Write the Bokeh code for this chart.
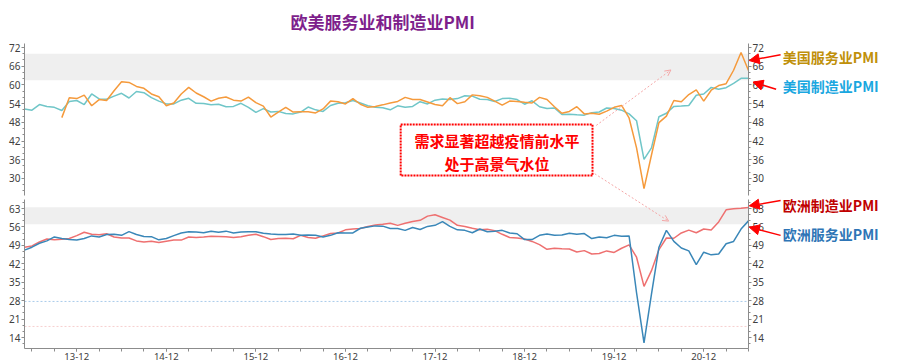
from bokeh.plotting import figure
from bokeh.models import (BoxAnnotation, Label, Arrow, NormalHead, OpenHead,
                          LinearAxis, Range1d, SingleIntervalTicker, FixedTicker)
from bokeh.embed import file_html
from bokeh.resources import INLINE

NaN = float("nan")

# ---- data: monthly, 2013-05 .. 2021-06 ----
start_year, start_month = 2013, 5
us_services = [NaN, NaN, NaN, NaN, NaN, 49.5, 55.9, 55.6,
               56.7, 53.3, 55.3, 55.0, 58.1, 61.0, 60.8, 59.5, 58.9, 57.1, 56.2, 53.3,
               54.2, 57.1, 59.2, 57.4, 56.2, 54.8, 55.7, 56.1, 55.1, 54.8, 56.1, 54.3,
               53.2, 49.7, 51.3, 52.8, 51.3, 51.4, 51.4, 51.0, 52.3, 54.8, 54.6, 53.9,
               55.6, 53.8, 52.8, 53.1, 53.6, 54.2, 54.7, 56.0, 55.3, 55.3, 54.5, 53.7,
               53.3, 55.9, 54.0, 54.6, 56.8, 56.5, 56.0, 54.8, 53.5, 54.8, 54.7, 54.4,
               54.2, 56.0, 55.3, 53.0, 50.9, 51.5, 53.0, 50.7, 50.9, 50.6, 51.6, 52.8,
               53.4, 49.4, 39.8, 26.7, 37.5, 47.9, 50.0, 55.0, 54.6, 56.9, 58.4, 54.8,
               58.3, 59.8, 60.4, 64.7, 70.4, 64.6]
us_manufacturing = [52.3, 51.9, 53.7, 53.1, 52.8, 51.8, 54.7, 55.0,
                    53.7, 57.1, 55.5, 55.4, 56.4, 57.3, 55.8, 57.9, 57.5, 55.9, 54.8, 53.9,
                    53.9, 55.1, 55.7, 54.1, 54.0, 53.6, 53.8, 53.0, 53.1, 54.1, 52.8, 51.2,
                    52.4, 51.3, 51.5, 50.8, 50.7, 51.3, 52.9, 52.0, 51.5, 53.4, 54.1, 54.3,
                    55.0, 54.2, 53.3, 52.8, 52.7, 52.0, 53.3, 52.8, 53.1, 54.6, 53.9, 55.1,
                    55.5, 55.3, 55.6, 56.5, 56.4, 55.4, 55.3, 54.7, 55.6, 55.7, 55.3, 53.8,
                    54.9, 53.0, 52.4, 52.6, 50.5, 50.6, 50.4, 50.3, 51.1, 51.3, 52.6, 52.4,
                    51.9, 50.7, 48.5, 36.1, 39.8, 49.8, 50.9, 53.1, 53.2, 53.4, 56.7, 57.1,
                    59.2, 58.6, 59.1, 60.5, 62.1, 62.1]
eu_manufacturing = [48.3, 48.8, 50.3, 51.4, 51.1, 51.3, 51.6, 52.7,
                    54.0, 53.2, 53.0, 53.4, 52.2, 51.8, 51.8, 50.7, 50.3, 50.6, 50.1, 50.6,
                    51.0, 51.0, 52.2, 52.0, 52.2, 52.5, 52.4, 52.3, 52.0, 52.3, 52.8, 53.2,
                    52.3, 51.2, 51.6, 51.7, 51.5, 52.8, 52.0, 51.7, 52.6, 53.5, 53.7, 54.9,
                    55.2, 55.4, 56.2, 56.7, 57.0, 57.4, 56.6, 57.4, 58.1, 58.5, 60.1, 60.6,
                    59.6, 58.6, 56.6, 56.2, 55.5, 54.9, 55.1, 54.6, 53.2, 52.0, 51.8, 51.4,
                    50.5, 49.3, 47.5, 47.9, 47.7, 47.6, 46.5, 47.0, 45.7, 45.9, 46.9, 46.3,
                    47.9, 49.2, 44.5, 33.4, 39.4, 47.4, 51.8, 51.7, 53.7, 54.8, 53.8, 55.2,
                    54.8, 57.9, 62.5, 62.9, 63.1, 63.4]
eu_services = [47.2, 48.3, 49.8, 50.7, 52.2, 51.6, 51.2, 51.0,
               51.6, 52.6, 52.2, 53.1, 53.2, 52.8, 54.2, 53.1, 52.4, 52.3, 51.1, 51.6,
               52.7, 53.7, 54.2, 54.1, 53.8, 54.4, 54.0, 54.4, 53.7, 54.1, 54.2, 54.2,
               53.6, 53.3, 53.1, 53.1, 53.3, 52.8, 52.9, 52.8, 52.2, 52.8, 53.8, 53.7,
               53.7, 55.5, 56.0, 56.4, 56.3, 55.4, 55.4, 54.7, 55.8, 55.0, 56.2, 56.6,
               58.0, 56.2, 54.9, 54.7, 53.8, 55.2, 54.2, 54.4, 54.7, 53.7, 53.4, 51.2,
               51.2, 52.8, 53.3, 52.8, 52.9, 53.6, 53.2, 53.5, 51.6, 52.2, 51.9, 52.8,
               52.5, 52.6, 31.0, 12.0, 30.5, 48.3, 54.7, 50.5, 48.0, 46.9, 41.7, 46.4,
               45.4, 45.7, 49.6, 50.5, 55.2, 58.3]
x_tick_labels = ["13-12", "14-12", "15-12", "16-12", "17-12", "18-12", "19-12", "20-12"]
ref_blue_level = 27.7
ref_red_level = 18.2
top_band = (61.5, 70.0)
bottom_band = (57.0, 63.5)
top_panel_span = (24.5, 73.3)
bottom_panel_span = (9.8, 66.4)

n = len(us_manufacturing)
xs = list(range(n))
x_last = xs[-1]
month_of = [(start_month - 1 + i) % 12 for i in xs]
dec_ticks = [i for i in xs if month_of[i] == 11]
quarter_ticks = [i for i in xs if month_of[i] in (2, 5, 8, 11)]

# ---- layout constants (pixels) ----
W, H = 900, 364
TOP_B = 34            # space for the title above the frame
X0_PX = 24            # pixel where month 0 sits
PX_PER_MONTH = 7.464
TOP_REF_Y, TOP_REF_V, TOP_PX = 47, 72, 3.117   # top panel: value 72 at y=47
BOT_REF_Y, BOT_REF_V, BOT_PX = 208, 63, 2.633  # bottom panel: value 63 at y=208

top_end = TOP_REF_V + (TOP_REF_Y - TOP_B) / TOP_PX
top_start = TOP_REF_V - (H - TOP_REF_Y) / TOP_PX
bot_end = BOT_REF_V + (BOT_REF_Y - TOP_B) / BOT_PX
bot_start = BOT_REF_V - (H - BOT_REF_Y) / BOT_PX


def bot_to_top(v):
    y = BOT_REF_Y + (BOT_REF_V - v) * BOT_PX
    return TOP_REF_V - (y - TOP_REF_Y) / TOP_PX


CJK = "Noto Sans CJK SC"
AX_COL = "#8C8C8C"
LBL_COL = "#404040"
RED = "#FF0000"
PINK = "#F4A7A7"

p = figure(width=W, height=H,
           x_range=Range1d(-X0_PX / PX_PER_MONTH, (W - X0_PX) / PX_PER_MONTH),
           y_range=Range1d(bot_start, bot_end), output_backend="svg",
           toolbar_location=None, x_axis_location=None, y_axis_location=None,
           min_border_left=0, min_border_right=0, min_border_top=TOP_B,
           min_border_bottom=0)
p.extra_y_ranges = {"top": Range1d(top_start, top_end)}
p.outline_line_color = None
p.grid.visible = False

p.title.text = "欧美服务业和制造业PMI"
p.title.align = "left"
p.title.offset = 290
p.title.standoff = 1
p.title.text_font = CJK
p.title.text_font_size = "17px"
p.title.text_font_style = "bold"
p.title.text_color = "#7E1F8C"


def yaxis(rng_name, span, interval, loc, side):
    kw = {} if rng_name is None else {"y_range_name": rng_name}
    ax = LinearAxis(fixed_location=loc, bounds=span,
                    ticker=SingleIntervalTicker(interval=interval, num_minor_ticks=3), **kw)
    ax.axis_line_color = AX_COL
    ax.major_tick_line_color = AX_COL
    ax.minor_tick_line_color = AX_COL
    ax.major_tick_in = 0
    ax.major_tick_out = 3
    ax.minor_tick_in = 0
    ax.minor_tick_out = 2
    ax.major_label_standoff = 1
    ax.major_label_text_font = "Noto Sans"
    ax.major_label_text_font_size = "10px"
    ax.major_label_text_color = LBL_COL
    p.add_layout(ax, side)


yaxis("top", top_panel_span, 6, 0, "left")
yaxis("top", top_panel_span, 6, x_last, "right")
yaxis(None, bottom_panel_span, 7, 0, "left")
yaxis(None, bottom_panel_span, 7, x_last, "right")

xa = LinearAxis(fixed_location=bottom_panel_span[0], bounds=(0, x_last),
                ticker=FixedTicker(ticks=dec_ticks, minor_ticks=quarter_ticks))
xa.major_label_overrides = {t: lab for t, lab in zip(dec_ticks, x_tick_labels)}
xa.axis_line_color = AX_COL
xa.major_tick_line_color = AX_COL
xa.minor_tick_line_color = AX_COL
xa.major_tick_in = 0
xa.major_tick_out = 3
xa.minor_tick_in = 0
xa.minor_tick_out = 3
xa.major_label_standoff = 1
xa.major_label_text_font = "Noto Sans"
xa.major_label_text_font_size = "9.5px"
xa.major_label_text_color = LBL_COL
p.add_layout(xa, "below")

# bands
p.add_layout(BoxAnnotation(left=0, right=x_last, bottom=top_band[0], top=top_band[1],
                           y_range_name="top", fill_color="#EFEFEF", fill_alpha=1,
                           line_color=None, level="underlay"))
p.add_layout(BoxAnnotation(left=0, right=x_last, bottom=bottom_band[0], top=bottom_band[1],
                           fill_color="#EFEFEF", fill_alpha=1, line_color=None,
                           level="underlay"))
# dotted reference levels (bottom panel)
p.segment(x0=[0], y0=[ref_blue_level], x1=[x_last], y1=[ref_blue_level],
          line_color="#A9CBEA", line_width=1, line_dash="2 2")
p.segment(x0=[0], y0=[ref_red_level], x1=[x_last], y1=[ref_red_level],
          line_color="#F7CFCF", line_width=1, line_dash="2 2")

# series
p.line(xs, us_manufacturing, y_range_name="top", line_color="#70C6C8", line_width=1.5)
p.line(xs, us_services, y_range_name="top", line_color="#F59A3C", line_width=1.5)
p.line(xs, eu_manufacturing, line_color="#EE7070", line_width=1.5)
p.line(xs, eu_services, line_color="#3A87B8", line_width=1.5)

# annotation box
p.add_layout(BoxAnnotation(left=50.4, right=76.1, bottom=30.9, top=47.3, y_range_name="top",
                           fill_alpha=0, line_color=RED, line_alpha=1, line_width=2,
                           line_dash="2 1"))
for yy, txt in [(42.2, "需求显著超越疫情前水平"), (34.8, "处于高景气水位")]:
    p.add_layout(Label(x=63.3, y=yy, y_range_name="top", text=txt, text_align="center",
                       text_baseline="middle", text_font=CJK, text_font_size="15px",
                       text_font_style="bold", text_color=RED))
p.add_layout(Arrow(end=OpenHead(size=6, line_color=PINK, line_width=1),
                   x_start=76.6, y_start=47.0, x_end=86.6, y_end=64.8, y_range_name="top",
                   line_color=PINK, line_width=1, line_dash="2 2"))
p.add_layout(Arrow(end=OpenHead(size=6, line_color=PINK, line_width=1),
                   x_start=76.4, y_start=31.5, x_end=86.3, y_end=bot_to_top(58.2),
                   y_range_name="top", line_color=PINK, line_width=1, line_dash="2 2"))

# right-hand labels with arrows
labels = [("top", 68.8, "美国服务业PMI", "#C0900A", (101.3, 69.7), (97.1, 67.8)),
          ("top", 59.8, "美国制造业PMI", "#1AA7E0", (100.7, 58.6), (97.6, 60.9)),
          ("default", 64.5, "欧洲制造业PMI", "#C00000", (101.3, 66.0), (97.1, 64.0)),
          ("default", 53.5, "欧洲服务业PMI", "#2E75B6", (101.3, 52.8), (97.1, 55.9))]
for rng, yy, txt, col, s, e in labels:
    p.add_layout(Label(x=101.6, y=yy, y_range_name=rng, text=txt, text_baseline="middle",
                       text_font=CJK, text_font_size="14px", text_font_style="bold",
                       text_color=col))
    p.add_layout(Arrow(end=NormalHead(size=10, fill_color=RED, line_color=RED),
                       x_start=s[0], y_start=s[1], x_end=e[0], y_end=e[1], y_range_name=rng,
                       line_color=RED, line_width=1.5))

open("out.html", "w").write(file_html(p, INLINE))
